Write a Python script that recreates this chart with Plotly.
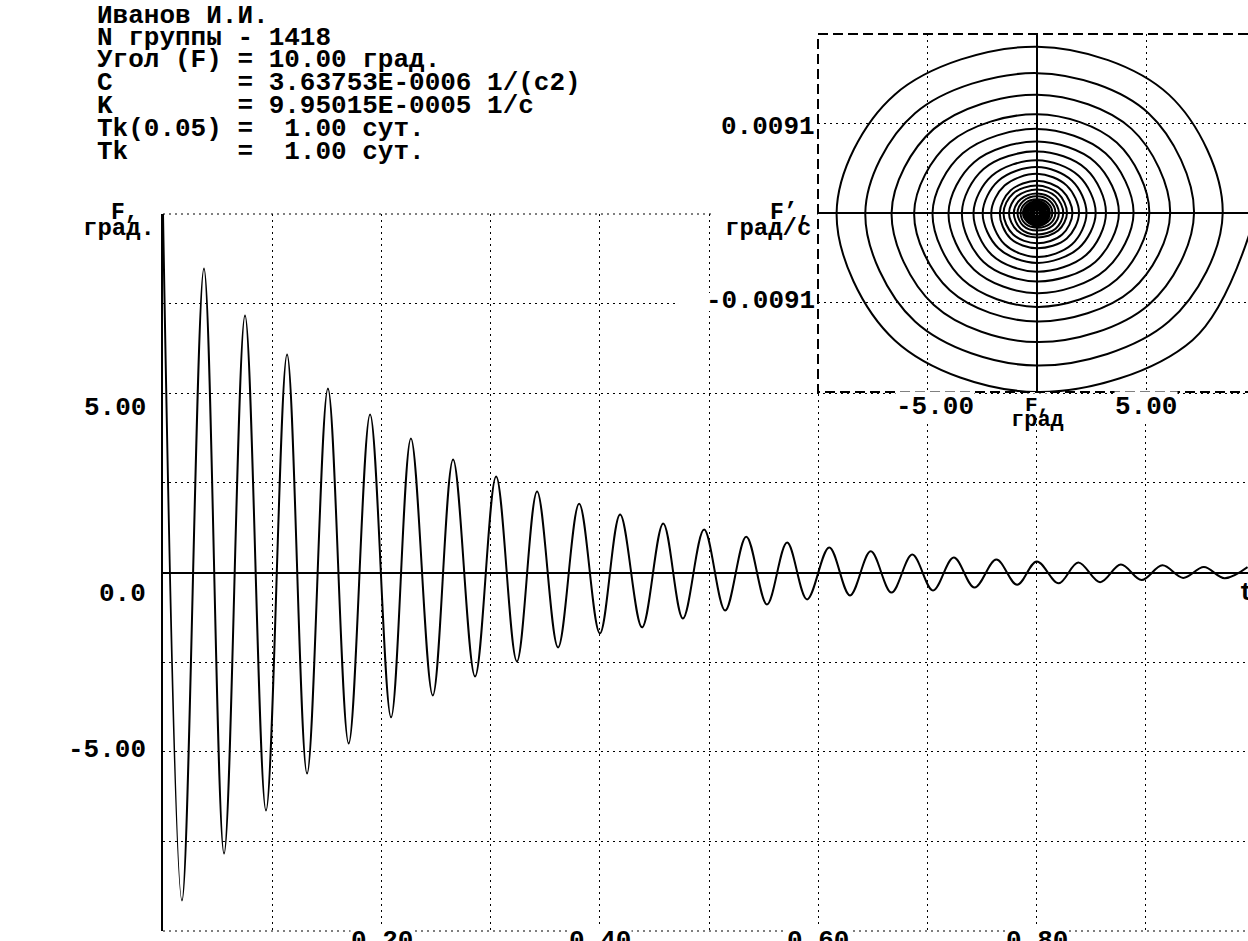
import plotly.graph_objects as go

# ---------------- data ----------------
# time of successive extrema of F (сут) and their values (град)
ext_t = [0.000, 0.0174, 0.0375, 0.0559, 0.0751, 0.0943, 0.1136, 0.1319, 0.1510, 0.1700,
         0.1896, 0.2088, 0.2270, 0.2470, 0.2656, 0.2857, 0.3050, 0.3240, 0.3425, 0.3617,
         0.3810, 0.4000, 0.4185, 0.4386, 0.4580, 0.4760, 0.4954, 0.5147, 0.5340, 0.5530,
         0.5714, 0.5897, 0.6100, 0.6290, 0.6480, 0.6670, 0.6860, 0.7050, 0.7240, 0.7430,
         0.7630, 0.7820, 0.8000, 0.8200, 0.8380, 0.8580, 0.8770, 0.8960, 0.9150, 0.9340,
         0.9530, 0.9720, 0.9930]
ext_F = [10.00, -9.15, 8.48, -7.84, 7.17, -6.64, 6.08, -5.61, 5.13, -4.77,
         4.41, -4.04, 3.74, -3.43, 3.15, -2.90, 2.68, -2.48, 2.26, -2.09,
         1.92, -1.70, 1.62, -1.53, 1.37, -1.28, 1.20, -1.06, 1.00, -0.89,
         0.84, -0.75, 0.70, -0.64, 0.59, -0.56, 0.50, -0.50, 0.42, -0.42,
         0.36, -0.34, 0.31, -0.30, 0.28, -0.27, 0.22, -0.21, 0.20, -0.15,
         0.15, -0.16, 0.15]
# F' (град/с) where the phase trajectory crosses F = 0, one per half-turn
cross_dF = [-0.0183, 0.0170, -0.0156, 0.0143, -0.0132, 0.0121, -0.0111, 0.0101, -0.0096, 0.0086,
            -0.0082, 0.0073, -0.0070, 0.0063, -0.0060, 0.0054, -0.0051, 0.0047, -0.0045, 0.0040,
            -0.0036, 0.0033, -0.0031, 0.0028, -0.0025, 0.0024, -0.0022, 0.0020, -0.0018, 0.0017,
            -0.0015, 0.0014, -0.0013, 0.0012, -0.0011, 0.0010, -0.00096, 0.00088, -0.00081, 0.00075,
            -0.00067, 0.00062, -0.00059, 0.00056, -0.00053, 0.00047, -0.00041, 0.00039, -0.00034,
            0.00029, -0.00030, 0.00030]
# points of each phase half-turn lying roughly on the diagonals:
# first one after leaving the F axis, second one before reaching it again
diag_in_F = [7.10, -6.50, 6.02, -5.57, 5.09, -4.71, 4.32, -3.98, 3.64, -3.39,
             3.13, -2.87, 2.66, -2.44, 2.24, -2.06, 1.90, -1.76, 1.60, -1.48,
             1.36, -1.21, 1.15, -1.09, 0.97, -0.91, 0.85, -0.75, 0.71, -0.63,
             0.60, -0.53, 0.50, -0.45, 0.42, -0.40, 0.36, -0.36, 0.30, -0.30,
             0.26, -0.24, 0.22, -0.21, 0.20, -0.19, 0.16, -0.15, 0.14, -0.11,
             0.11, -0.11]
diag_out_F = [-6.50, 6.02, -5.57, 5.09, -4.71, 4.32, -3.98, 3.64, -3.39, 3.13,
              -2.87, 2.66, -2.44, 2.24, -2.06, 1.90, -1.76, 1.60, -1.48, 1.36,
              -1.21, 1.15, -1.09, 0.97, -0.91, 0.85, -0.75, 0.71, -0.63, 0.60,
              -0.53, 0.50, -0.45, 0.42, -0.40, 0.36, -0.36, 0.30, -0.30, 0.26,
              -0.24, 0.22, -0.21, 0.20, -0.19, 0.16, -0.15, 0.14, -0.11, 0.11,
              -0.11, 0.11]
diag_dF = [-0.0130, 0.0121, -0.0111, 0.0102, -0.0094, 0.0086, -0.0079, 0.0072, -0.0068, 0.0061,
           -0.0058, 0.0052, -0.0050, 0.0045, -0.0043, 0.0038, -0.0036, 0.0033, -0.0032, 0.0028,
           -0.0026, 0.0023, -0.0022, 0.0020, -0.0018, 0.0017, -0.0016, 0.0014, -0.0013, 0.0012,
           -0.0011, 0.0010, -0.0009, 0.00085, -0.00078, 0.00071, -0.00068, 0.00062, -0.00058, 0.00053,
           -0.00048, 0.00044, -0.00042, 0.00040, -0.00038, 0.00033, -0.00029, 0.00028, -0.00024,
           0.00021, -0.00021, 0.00021]

info_labels = ["Иванов И.И.", "N группы", "Угол (F)", "C", "K", "Tk(0.05)", "Tk"]
info_signs = ["", "-", "=", "=", "=", "=", "="]
info_values = ["", "1418", "10.00 град.", "3.63753E-0006 1/(c2)", "9.95015E-0005 1/c",
               " 1.00 сут.", " 1.00 сут."]

main_xticks = [0.2, 0.4, 0.6, 0.8]
main_xticktext = ["0.20", "0.40", "0.60", "0.80"]
main_ytext = ["5.00", "0.0", "-5.00"]
phase_xtick = 5.0
phase_ytick = 0.0091

# phase trajectory assembled from the readings above
ph_F, ph_dF = [], []
for k in range(len(cross_dF)):
    ph_F += [ext_F[k], diag_in_F[k], 0.0, diag_out_F[k]]
    ph_dF += [0.0, diag_dF[k], cross_dF[k], diag_dF[k]]
ph_F.append(ext_F[-1])
ph_dF.append(0.0)

# ---------------- geometry (pixels) ----------------
W, H = 1248, 941
L, R, T, B = 163, 0, 34, 10
PW, PH = W - L - R, H - T - B


def px(x):
    return (x - L) / PW


def py(y):
    return (H - B - y) / PH


FONT = "Liberation Mono"
FS = 26
DOT = "2px,4px"


def font(size=FS):
    return dict(family=FONT, size=size, color="black", weight="bold")


fig = go.Figure()
fig.add_trace(go.Scatter(x=ext_t, y=ext_F, mode="lines",
                         line=dict(color="black", width=2, shape="spline", smoothing=1.0),
                         xaxis="x", yaxis="y", hoverinfo="skip", showlegend=False))
fig.add_trace(go.Scatter(x=ph_F, y=ph_dF, mode="lines",
                         line=dict(color="black", width=2, shape="spline", smoothing=1.0),
                         xaxis="x2", yaxis="y2", hoverinfo="skip", showlegend=False))

main_top = py(214)
ph_left = px(818)
ph_bottom = py(392)

fig.update_layout(
    width=W, height=H, margin=dict(l=L, r=R, t=T, b=B, pad=0),
    paper_bgcolor="white", plot_bgcolor="rgba(0,0,0,0)", showlegend=False,
    xaxis=dict(domain=[0, 1], range=[0, 0.9934], tick0=0, dtick=0.1,
               showgrid=True, gridcolor="black", gridwidth=1, griddash=DOT,
               zeroline=False, showticklabels=False, ticks="", showline=False,
               anchor="y", fixedrange=True),
    yaxis=dict(domain=[0, main_top], range=[-10, 10], tick0=0, dtick=2.5,
               showgrid=True, gridcolor="black", gridwidth=1, griddash=DOT,
               zeroline=True, zerolinecolor="black", zerolinewidth=2,
               showticklabels=False, ticks="", showline=True, linecolor="black",
               linewidth=2, anchor="x", fixedrange=True),
    xaxis2=dict(domain=[ph_left, 1], range=[-10.0, 9.635], tickvals=[-phase_xtick, phase_xtick],
                showgrid=True, gridcolor="black", gridwidth=1, griddash=DOT,
                zeroline=True, zerolinecolor="black", zerolinewidth=2,
                showticklabels=False, ticks="", showline=False, anchor="y2", fixedrange=True),
    yaxis2=dict(domain=[ph_bottom, 1], range=[-0.0183, 0.0183],
                tickvals=[-phase_ytick, phase_ytick],
                showgrid=True, gridcolor="black", gridwidth=1, griddash=DOT,
                zeroline=True, zerolinecolor="black", zerolinewidth=2,
                showticklabels=False, ticks="", showline=False, anchor="x2", fixedrange=True),
)

shapes = []
# main plot top / bottom dotted borders
shapes.append(dict(type="line", xref="paper", yref="paper", x0=0, x1=1, y0=main_top, y1=main_top,
                   line=dict(color="black", width=1, dash=DOT), layer="below"))
shapes.append(dict(type="line", xref="paper", yref="paper", x0=0, x1=1, y0=0, y1=0,
                   line=dict(color="black", width=1, dash=DOT), layer="below"))
# white background of the phase window (inside its own subplot, covers main plot)
shapes.append(dict(type="rect", xref="x2", yref="y2", x0=-12, x1=12, y0=-0.02, y1=0.02,
                   fillcolor="white", line=dict(width=0), layer="below"))
# dashed frame of the phase window
shapes.append(dict(type="path", xref="paper", yref="paper",
                   path=f"M 1,1 L {ph_left},1 L {ph_left},{ph_bottom} L 1,{ph_bottom}",
                   line=dict(color="black", width=2, dash="10px,5px"), layer="above"))
# masks behind labels
for (x0, x1, y0, y1) in [(712, 816, 204, 237), (676, 816, 293, 311)]:
    shapes.append(dict(type="rect", xref="paper", yref="paper", x0=px(x0), x1=px(x1),
                       y0=py(y1), y1=py(y0), fillcolor="white", line=dict(width=0),
                       layer="above"))
fig.update_layout(shapes=shapes)

ann = []


def txt(s, x, y, xa="left", size=FS, bg=None):
    d = dict(text=s.replace(" ", "\u00a0"), x=px(x), y=py(y), xref="paper", yref="paper",
             xanchor=xa, yanchor="middle", showarrow=False, font=font(size), borderpad=0)
    if bg:
        d["bgcolor"] = bg
    ann.append(d)


rows_y = [16, 38, 60, 83, 106, 129, 152]
for lab, sg, val, yy in zip(info_labels, info_signs, info_values, rows_y):
    line = lab if not sg else f"{lab:<9}{sg} {val}"
    txt(line, 96, yy)

# main axis labels
txt("F,", 110, 213, size=23)
txt("град.", 82, 228, size=24)
for s, yy in zip(main_ytext, [408, 594, 750]):
    txt(s, 147, yy, xa="right")
for v, s in zip(main_xticks, main_xticktext):
    xpix = 163.3 + v * 1091.9
    txt(s, xpix, 941, xa="center", bg="white")
txt("t, сут", 1238, 593)

# phase labels
txt("F’,", 769, 213, size=23)
txt("град/с", 724, 228, size=24)
txt("0.0091", 816, 127, xa="right")
txt("-0.0091", 816, 301, xa="right")
txt("-5.00", 935, 407, xa="center", bg="white")
txt("5.00", 1146, 407, xa="center", bg="white")
txt("F,", 1037, 405, xa="center", size=21, bg="white")
txt("град", 1037, 420, xa="center", size=22)

fig.update_layout(annotations=ann)
fig.write_html("out.html")
